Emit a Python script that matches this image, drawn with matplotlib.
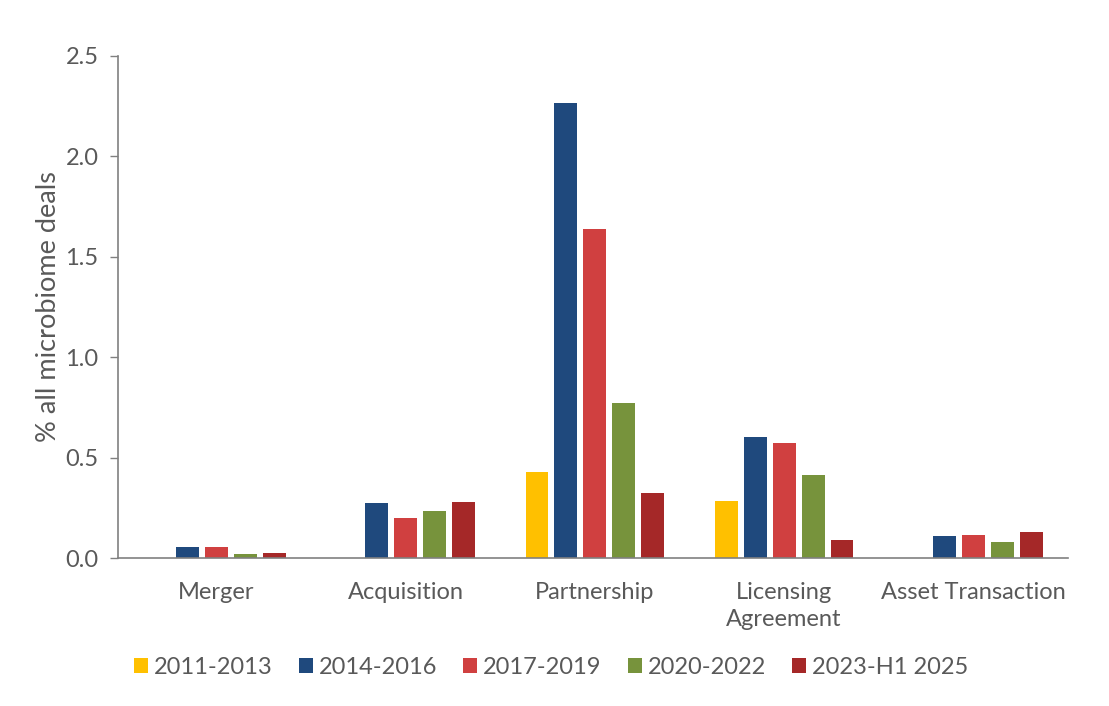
import numpy as np
import matplotlib.pyplot as plt

plt.rcParams['font.family'] = ['Lato', 'DejaVu Sans']

categories = ["Merger", "Acquisition", "Partnership", "Licensing\nAgreement", "Asset Transaction"]
series = ["2011-2013", "2014-2016", "2017-2019", "2020-2022", "2023-H1 2025"]
values = [
    [0.0, 0.0, 0.428, 0.284, 0.0],
    [0.055, 0.274, 2.266, 0.603, 0.11],
    [0.055, 0.200, 1.638, 0.573, 0.115],
    [0.020, 0.234, 0.772, 0.413, 0.08],
    [0.025, 0.279, 0.324, 0.090, 0.13],
]
colors = ["#FFC000", "#1F497D", "#D04040", "#77933C", "#A52828"]

txt = "#595959"
fig = plt.figure(figsize=(11.09, 7.06), dpi=100)
ax = fig.add_axes([0.1064, 0.2096, 0.8566, 0.7111])

x = np.arange(len(categories))
step = 0.153
w = 0.121
for i, (s, v, c) in enumerate(zip(series, values, colors)):
    ax.bar(x + (i - 2) * step, v, w, color=c, label=s)

ax.set_xlim(-0.52, 4.5)
ax.set_ylim(0, 2.5)
ax.set_yticks([0, 0.5, 1.0, 1.5, 2.0, 2.5])
ax.set_yticklabels(["0.0", "0.5", "1.0", "1.5", "2.0", "2.5"])
ax.set_xticks(x)
ax.set_xticklabels(categories, linespacing=1.35)
ax.tick_params(axis='x', length=0, pad=17, labelsize=17, labelcolor=txt)
ax.tick_params(axis='y', length=6, width=1, pad=8, labelsize=17, color="#808080", labelcolor=txt)
ax.set_ylabel("% all microbiome deals", fontsize=19.5, color=txt, labelpad=3)

for sp in ['top', 'right']:
    ax.spines[sp].set_visible(False)
for sp in ['left', 'bottom']:
    ax.spines[sp].set_color("#808080")
    ax.spines[sp].set_linewidth(1.2)

leg = fig.legend(loc='center', bbox_to_anchor=(0.497, 0.055), ncol=5, frameon=False,
                 fontsize=17, handlelength=0.6, handleheight=0.6, handletextpad=0.25,
                 columnspacing=1.1)
for t in leg.get_texts():
    t.set_color(txt)

plt.savefig("out.png", dpi=100)
